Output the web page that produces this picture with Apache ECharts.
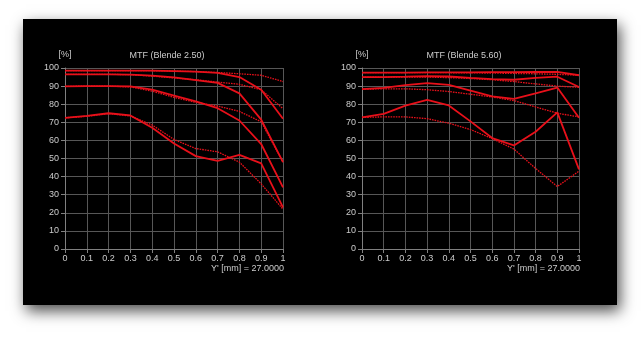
<!DOCTYPE html>
<html>
<head>
<meta charset="utf-8">
<script src="https://cdn.jsdelivr.net/npm/echarts@6/dist/echarts.min.js"></script>
<style>
html,body{margin:0;padding:0;background:#fff;}
#c{width:641px;height:341px;}
</style>
</head>
<body>
<div id="c"></div>
<script>
// ---- data ----
var xValues = [0, 0.1, 0.2, 0.3, 0.4, 0.5, 0.6, 0.7, 0.8, 0.9, 1];
var titles = ['MTF (Blende 2.50)', 'MTF (Blende 5.60)'];
var yUnit = '[%]';
var xName = "Y' [mm] = 27.0000";

// Blende 2.50 (left)
var f250_s1 = [98.5, 98.5, 98.5, 98.5, 98.5, 98.3, 98.0, 97.3, 95.0, 88.0, 72.0];
var f250_t1 = [98.5, 98.5, 98.5, 98.5, 98.5, 98.3, 98.0, 97.5, 96.8, 96.0, 92.5];
var f250_s2 = [96.5, 96.5, 96.5, 96.3, 95.8, 94.8, 93.3, 91.8, 86.0, 71.5, 48.0];
var f250_t2 = [96.5, 96.5, 96.5, 96.3, 95.5, 94.5, 93.5, 92.2, 91.0, 88.0, 77.5];
var f250_s3 = [89.8, 90.0, 90.0, 89.8, 88.0, 84.8, 81.5, 77.8, 71.0, 58.0, 34.0];
var f250_t3 = [89.8, 90.0, 90.0, 89.5, 87.2, 83.8, 81.0, 79.0, 76.0, 70.3, 48.0];
var f250_s4 = [72.5, 73.5, 75.0, 73.8, 67.0, 58.3, 51.3, 48.7, 52.0, 47.3, 23.0];
var f250_t4 = [72.5, 73.3, 74.8, 73.5, 68.5, 60.5, 55.5, 53.7, 48.0, 36.0, 22.0];

// Blende 5.60 (right)
var f560_s1 = [97.5, 97.5, 97.5, 97.6, 97.6, 97.6, 97.7, 97.7, 97.8, 97.8, 96.0];
var f560_t1 = [97.5, 97.5, 97.5, 97.5, 97.4, 97.3, 97.2, 97.0, 96.8, 96.5, 96.0];
var f560_s2 = [95.0, 95.0, 95.2, 95.5, 95.3, 94.5, 93.8, 93.5, 94.5, 95.2, 89.5];
var f560_t2 = [95.0, 95.0, 95.0, 95.0, 94.7, 94.2, 93.5, 92.5, 91.2, 90.0, 89.3];
var f560_s3 = [88.3, 89.0, 90.5, 91.6, 90.7, 87.5, 84.3, 82.9, 86.0, 89.2, 72.5];
var f560_t3 = [88.3, 88.5, 88.5, 88.0, 87.0, 85.5, 84.0, 82.0, 78.5, 75.0, 73.0];
var f560_s4 = [72.7, 74.7, 79.2, 82.4, 79.3, 70.5, 61.3, 57.2, 64.8, 75.5, 44.0];
var f560_t4 = [72.7, 73.0, 73.0, 72.0, 69.5, 66.0, 61.0, 55.2, 44.5, 34.5, 43.0];

var panels = [
  {solid: [f250_s1, f250_s2, f250_s3, f250_s4], dotted: [f250_t1, f250_t2, f250_t3, f250_t4]},
  {solid: [f560_s1, f560_s2, f560_s3, f560_s4], dotted: [f560_t1, f560_t2, f560_t3, f560_t4]}
];

// ---- chart ----
var FONT = '"Liberation Sans", Arial, sans-serif';
var LBL = '#cccccc';
var RED = '#e8101a';

function pairs(arr) { return xValues.map(function (x, i) { return [x, arr[i]]; }); }

var grids = [
  {left: 65, top: 68, width: 218, height: 181},
  {left: 362, top: 68, width: 217, height: 181}
];

var xAxes = [], yAxes = [], series = [];
grids.forEach(function (g, gi) {
  xAxes.push({
    type: 'value', gridIndex: gi, min: 0, max: 1, interval: 0.1,
    axisLine: {show: true, lineStyle: {color: '#808080', width: 1}},
    axisTick: {show: true, length: 4, lineStyle: {color: '#808080'}},
    splitLine: {show: true, lineStyle: {color: '#575757', width: 1}},
    axisLabel: {color: LBL, fontFamily: FONT, fontSize: 9, margin: 5, showMaxLabel: true, showMinLabel: true}
  });
  yAxes.push({
    type: 'value', gridIndex: gi, min: 0, max: 100, interval: 10,
    name: yUnit, nameLocation: 'end', nameGap: 9,
    nameTextStyle: {color: LBL, fontFamily: FONT, fontSize: 9},
    axisLine: {show: true, lineStyle: {color: '#808080', width: 1}},
    axisTick: {show: true, length: 4, lineStyle: {color: '#808080'}},
    splitLine: {show: true, lineStyle: {color: '#575757', width: 1}},
    axisLabel: {color: LBL, fontFamily: FONT, fontSize: 9, margin: 6}
  });
  panels[gi].dotted.forEach(function (arr) {
    series.push({
      type: 'line', xAxisIndex: gi, yAxisIndex: gi, data: pairs(arr),
      symbol: 'none', z: 3,
      lineStyle: {color: RED, width: 1.3, type: [1.6, 1]}
    });
  });
  panels[gi].solid.forEach(function (arr) {
    series.push({
      type: 'line', xAxisIndex: gi, yAxisIndex: gi, data: pairs(arr),
      symbol: 'none', z: 4,
      lineStyle: {color: RED, width: 1.8}
    });
  });
});

function txt(x, y, s, align) {
  return {
    type: 'text', x: x, y: y, z: 10,
    style: {text: s, fill: LBL, font: '9px ' + FONT, textAlign: align, align: align,
            textVerticalAlign: 'middle', verticalAlign: 'middle'}
  };
}

var chart = echarts.init(document.getElementById('c'), null, {renderer: 'canvas'});
chart.setOption({
  animation: false,
  backgroundColor: '#ffffff',
  grid: grids,
  xAxis: xAxes,
  yAxis: yAxes,
  series: series,
  graphic: [
    {
      type: 'rect', z: -10, silent: true,
      shape: {x: 23, y: 19, width: 594, height: 286},
      style: {fill: '#000', shadowBlur: 14, shadowOffsetX: 3, shadowOffsetY: 6, shadowColor: 'rgba(0,0,0,0.7)'}
    },
    txt(167, 56, titles[0], 'center'),
    txt(464, 56, titles[1], 'center'),
    txt(284, 269, xName, 'right'),
    txt(580, 269, xName, 'right')
  ]
});
</script>
</body>
</html>
